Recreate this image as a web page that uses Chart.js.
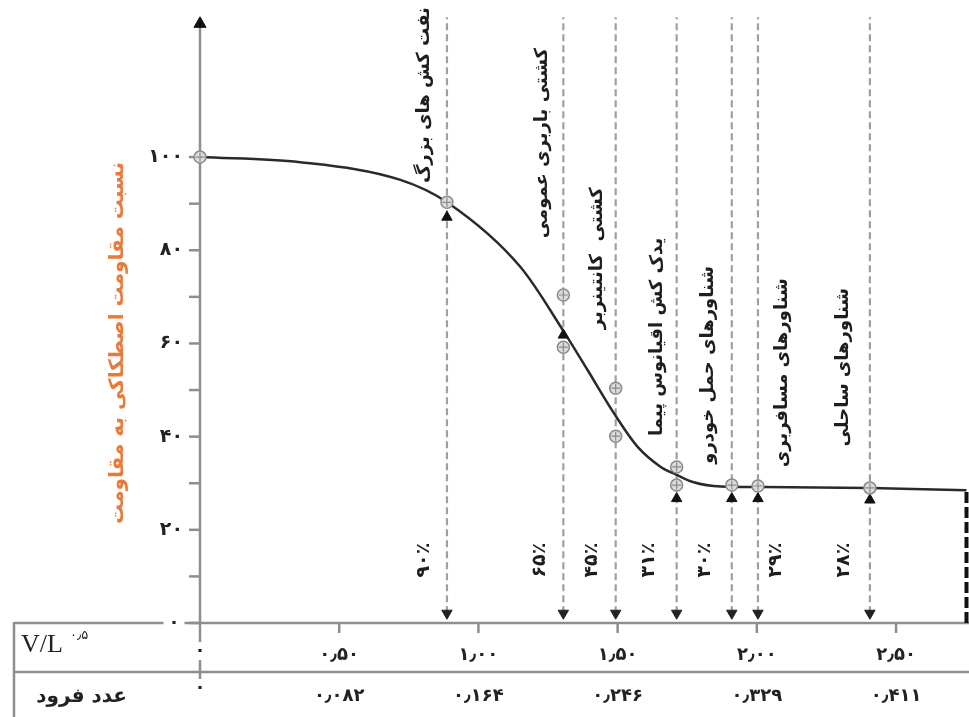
<!DOCTYPE html>
<html lang="fa">
<head>
<meta charset="utf-8">
<script src="https://cdn.jsdelivr.net/npm/chart.js@4.4.1/dist/chart.umd.min.js"></script>
<style>
  html, body { margin: 0; padding: 0; background: #fff; }
  #wrap { width: 969px; height: 717px; position: relative; }
</style>
</head>
<body>
<div id="wrap"><canvas id="frictionChart"></canvas></div>
<script>
'use strict';

// --- data ---
const guideX = [0.887, 1.305, 1.493, 1.712, 1.910, 2.004, 2.406];
const vesselNames = [
  'نفت کش های بزرگ',
  'کشتی باربری عمومی',
  'کشتی  کانتینربر',
  'یدک کش اقیانوس پیما',
  'شناورهای حمل خودرو',
  'شناورهای مسافربری',
  'شناورهای ساحلی',
];
const percentLabels = ['۹۰٪', '۶۵٪', '۴۵٪', '۳۱٪', '۳۰٪', '۲۹٪', '۲۸٪'];

const curveX = [0, 0.36, 0.72, 0.887, 1.151, 1.305, 1.392, 1.486, 1.572, 1.655, 1.712, 1.773, 1.871, 2.004, 2.406, 2.753];
const curveY = [100, 98.9, 95.1, 90.3, 76.4, 62.7, 54.3, 45.1, 37.8, 33.5, 31.8, 30.2, 29.3, 29.2, 29.0, 28.5];

const sampleX = [0, 0.887, 1.305, 1.305, 1.493, 1.493, 1.712, 1.712, 1.910, 2.004, 2.406];
const sampleY = [100, 90.3, 70.4, 59.2, 50.4, 40.1, 33.5, 29.6, 29.6, 29.4, 29.0];

const markX = [0.887, 1.305, 1.712, 1.910, 2.004, 2.406];
const markY = [87.1, 61.8, 26.7, 26.7, 26.7, 26.4];

const vlTicks = [0, 0.5, 1.0, 1.5, 2.0, 2.5];
const vlLabels = ['۰', '۰٫۵۰', '۱٫۰۰', '۱٫۵۰', '۲٫۰۰', '۲٫۵۰'];
const froudeLabels = ['۰', '۰٫۰۸۲', '۰٫۱۶۴', '۰٫۲۴۶', '۰٫۳۲۹', '۰٫۴۱۱'];

const yTicks = [0, 10, 20, 30, 40, 50, 60, 70, 80, 90, 100];
const yLabels = { 20: '۲۰', 40: '۴۰', 60: '۶۰', 80: '۸۰', 100: '۱۰۰' };

const yTitle = 'نسبت مقاومت اصطکاکی به مقاومت';
const rowTitle = 'عدد فرود';

// label anchors (data coords)
const nameAt = [[0.806, 113.3], [1.228, 103.0], [1.426, 78.3], [1.642, 61.4], [1.825, 55.4], [2.091, 53.7], [2.310, 54.9]];
const pctAt = [[0.805, 13.5], [1.221, 13.5], [1.408, 13.5], [1.613, 13.5], [1.814, 13.5], [2.069, 13.5], [2.313, 13.5]];

const GUIDE_TOP = 130;
const ARROW_Y = 2.1;
const X_END = 2.753;
const FA = '"DejaVu Sans", sans-serif';
const AXIS_GREY = '#8e8e8e';

function line(ctx, x1, y1, x2, y2) {
  ctx.beginPath();
  ctx.moveTo(x1, y1);
  ctx.lineTo(x2, y2);
  ctx.stroke();
}

function vText(ctx, txt, x, y, font, color) {
  ctx.save();
  ctx.translate(x, y);
  ctx.rotate(-Math.PI / 2);
  ctx.font = font;
  ctx.fillStyle = color;
  ctx.textAlign = 'center';
  ctx.textBaseline = 'middle';
  ctx.fillText(txt, 0, 0);
  ctx.restore();
}

function boxText(ctx, txt, x, y, font) {
  ctx.font = font;
  const w = ctx.measureText(txt).width;
  ctx.fillStyle = '#fff';
  ctx.fillRect(x - w / 2 - 5, y - 9, w + 10, 18);
  ctx.fillStyle = '#222';
  ctx.textAlign = 'center';
  ctx.textBaseline = 'middle';
  ctx.fillText(txt, x, y);
}

const axesPlugin = {
  id: 'axesPlugin',
  beforeDatasetsDraw(chart) {
    const { ctx, scales: { x, y } } = chart;
    const W = chart.width;
    const x0 = x.getPixelForValue(0);
    const y0 = y.getPixelForValue(0);
    ctx.save();
    ctx.strokeStyle = AXIS_GREY;
    ctx.lineWidth = 2.5;
    // x axis + table frame
    line(ctx, 14, y0, W, y0);
    line(ctx, 14, y0 - 1, 14, chart.height);
    line(ctx, 14, 672, W, 672);
    // y axis
    line(ctx, x0, 26, x0, 680);
    // y ticks
    yTicks.forEach(v => {
      const py = y.getPixelForValue(v);
      line(ctx, x0 - 11, py, x0, py);
    });
    // x ticks
    vlTicks.slice(1).forEach(v => {
      const px = x.getPixelForValue(v);
      line(ctx, px, y0, px, y0 + 10);
    });
    ctx.restore();
  },
  afterDraw(chart) {
    const { ctx, scales: { x, y } } = chart;
    const x0 = x.getPixelForValue(0);
    const y0 = y.getPixelForValue(0);
    ctx.save();

    // y tick labels
    ctx.font = 'bold 19px ' + FA;
    ctx.fillStyle = '#222';
    ctx.textAlign = 'right';
    ctx.textBaseline = 'middle';
    Object.keys(yLabels).forEach(k => {
      ctx.fillText(yLabels[k], x0 - 17, y.getPixelForValue(+k));
    });
    boxText(ctx, '۰', 174, y0, 'bold 18px ' + FA);

    // x rows
    const f = 'bold 18px ' + FA;
    vlTicks.forEach((v, i) => {
      const px = x.getPixelForValue(v);
      if (i === 0) {
        boxText(ctx, vlLabels[i], px, 651, f);
        boxText(ctx, froudeLabels[i], px, 688, f);
      } else {
        ctx.font = f;
        ctx.fillStyle = '#222';
        ctx.textAlign = 'center';
        ctx.textBaseline = 'middle';
        ctx.fillText(vlLabels[i], px, 655);
        ctx.fillText(froudeLabels[i], px, 696);
      }
    });

    // V/L^0.5 header
    ctx.textAlign = 'left';
    ctx.textBaseline = 'middle';
    ctx.font = '26px "Liberation Serif", serif';
    ctx.fillStyle = '#222';
    ctx.fillText('V/L', 21, 645);
    ctx.font = '13px ' + FA;
    ctx.fillText('۰٫۵', 70, 636);
    ctx.textAlign = 'right';
    ctx.font = 'bold 20px ' + FA;
    ctx.fillText(rowTitle, 127, 697);

    // y axis title
    vText(ctx, yTitle, 118, 343, 'bold 20px ' + FA, '#e97a3a');

    // vessel names and percentages
    vesselNames.forEach((t, i) => {
      vText(ctx, t, x.getPixelForValue(nameAt[i][0]), y.getPixelForValue(nameAt[i][1]), 'bold 18px ' + FA, '#1e1e1e');
    });
    percentLabels.forEach((t, i) => {
      vText(ctx, t, x.getPixelForValue(pctAt[i][0]), y.getPixelForValue(pctAt[i][1]), 'bold 19px ' + FA, '#1e1e1e');
    });
    ctx.restore();
  },
};

const pts = (xs, ys) => xs.map((v, i) => ({ x: v, y: ys[i] }));

const guideSets = guideX.map(gx => ({
  type: 'line',
  data: [{ x: gx, y: ARROW_Y }, { x: gx, y: GUIDE_TOP }],
  borderColor: '#a39e9e',
  borderWidth: 2.2,
  borderDash: [7, 4],
  pointRadius: 0,
  order: 10,
}));

new Chart(document.getElementById('frictionChart').getContext('2d'), {
  type: 'scatter',
  data: {
    datasets: [
      ...guideSets,
      {
        type: 'line',
        data: [{ x: X_END, y: 0 }, { x: X_END, y: curveY[curveY.length - 1] }],
        borderColor: '#111',
        borderWidth: 4,
        borderDash: [11, 4],
        pointRadius: 0,
        clip: false,
        order: 9,
      },
      {
        type: 'line',
        data: pts(curveX, curveY),
        borderColor: '#2a2a2a',
        borderWidth: 2.5,
        cubicInterpolationMode: 'monotone',
        pointRadius: 0,
        clip: false,
        order: 5,
      },
      {
        data: guideX.map(gx => ({ x: gx, y: ARROW_Y })),
        pointStyle: 'triangle',
        rotation: 180,
        pointRadius: 6,
        backgroundColor: '#222',
        borderColor: '#222',
        order: 4,
      },
      {
        data: [{ x: 0, y: 128.6 }],
        pointStyle: 'triangle',
        pointRadius: 7,
        backgroundColor: '#111',
        borderColor: '#111',
        clip: false,
        order: 4,
      },
      {
        data: pts(markX, markY),
        pointStyle: 'triangle',
        pointRadius: 6,
        backgroundColor: '#111',
        borderColor: '#111',
        order: 3,
      },
      {
        data: pts(sampleX, sampleY),
        pointStyle: 'circle',
        pointRadius: 6,
        backgroundColor: '#dcdcdc',
        borderColor: '#8a8a8a',
        borderWidth: 1.5,
        clip: false,
        order: 2,
      },
      {
        data: pts(sampleX, sampleY),
        pointStyle: 'cross',
        pointRadius: 4.5,
        borderColor: '#8a8a8a',
        borderWidth: 1.2,
        clip: false,
        order: 1,
      },
    ],
  },
  options: {
    responsive: true,
    maintainAspectRatio: false,
    animation: false,
    layout: { autoPadding: false, padding: { left: 200, right: 0, top: 8, bottom: 94 } },
    plugins: { legend: { display: false }, tooltip: { enabled: false } },
    scales: {
      x: { type: 'linear', min: 0, max: 2.762, display: false },
      y: { min: 0, max: 132, display: false },
    },
  },
  plugins: [axesPlugin],
});
</script>
</body>
</html>
